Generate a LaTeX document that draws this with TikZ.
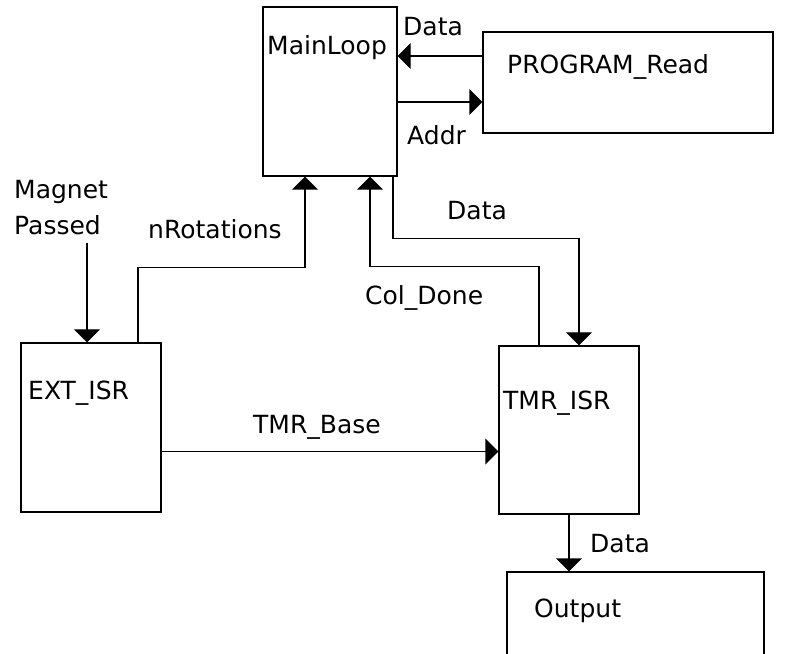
\documentclass[tikz,border=0pt]{standalone}
\usepackage{fontspec}
\setmainfont{DejaVu Sans}
\usetikzlibrary{arrows.meta}

\tikzset{
  block/.style={draw, line width=1.3pt, inner sep=0pt},
  sig/.style={line width=1.3pt, -{Triangle[length=13pt,width=26pt]}},
  lbl/.style={inner sep=0pt, anchor=base west, font=\fontsize{25}{36}\selectfont}
}

\begin{document}
\begin{tikzpicture}[x=1pt,y=1pt]
        \useasboundingbox (0,0) rectangle (791,653);

        % blocks
        \node[block, minimum width=134pt, minimum height=169pt] (main) at (330,561.5) {};
        \node[block, minimum width=290pt, minimum height=101pt] (prog) at (628,570.5) {};
        \node[block, minimum width=140pt, minimum height=169pt] (ext) at (91,225.5) {};
        \node[block, minimum width=140pt, minimum height=168pt] (tmr) at (569,223) {};
        \node[block, minimum width=257pt, minimum height=100pt] (out) at (635.5,31) {};

        % block names
        \node[lbl] (mainname) at (267,598) {MainLoop};
        \node[lbl] (progname) at (507,579) {PROGRAM\_Read};
        \node[lbl] (extname) at (28,253) {EXT\_ISR};
        \node[lbl] (tmrname) at (503,243) {TMR\_ISR};
        \node[lbl] (outname) at (534,36) {Output};

        % signals
        \coordinate (magnet) at (87,410);
        \draw[sig] (prog.west |- 0,597) -- (main.east |- 0,597);
        \draw[sig] (main.east |- 0,551) -- (prog.west |- 0,551);
        \draw[sig] (magnet) -- (magnet |- ext.north);
        \draw[sig] ([xshift=47pt]ext.north) -- ++(0,75) -| ([xshift=-25pt]main.south);
        \draw[sig] ([xshift=-30pt]tmr.north) -- ++(0,79) -| ([xshift=40pt]main.south);
        \draw[sig] ([xshift=63pt]main.south) -- ++(0,-62) -| ([xshift=10pt]tmr.north);
        \draw[sig] ([yshift=-24pt]ext.east) -- ([yshift=-24pt]ext.east -| tmr.west);
        \draw[sig] (tmr.south) -- (tmr.south |- out.north);

        % signal names
        \node[lbl] (datain) at (403,617) {Data};
        \node[lbl] (addr) at (407,508) {Addr};
        \node[lbl, anchor=north west, align=left] (magnetname) at (14,473) {Magnet\\Passed};
        \node[lbl] (nrot) at (148,414) {nRotations};
        \node[lbl] (dataout) at (447,433) {Data};
        \node[lbl] (coldone) at (365,348) {Col\_Done};
        \node[lbl] (tmrbase) at (253,219) {TMR\_Base};
        \node[lbl] (dataoutp) at (590,101) {Data};
    \end{tikzpicture}
\end{document}
